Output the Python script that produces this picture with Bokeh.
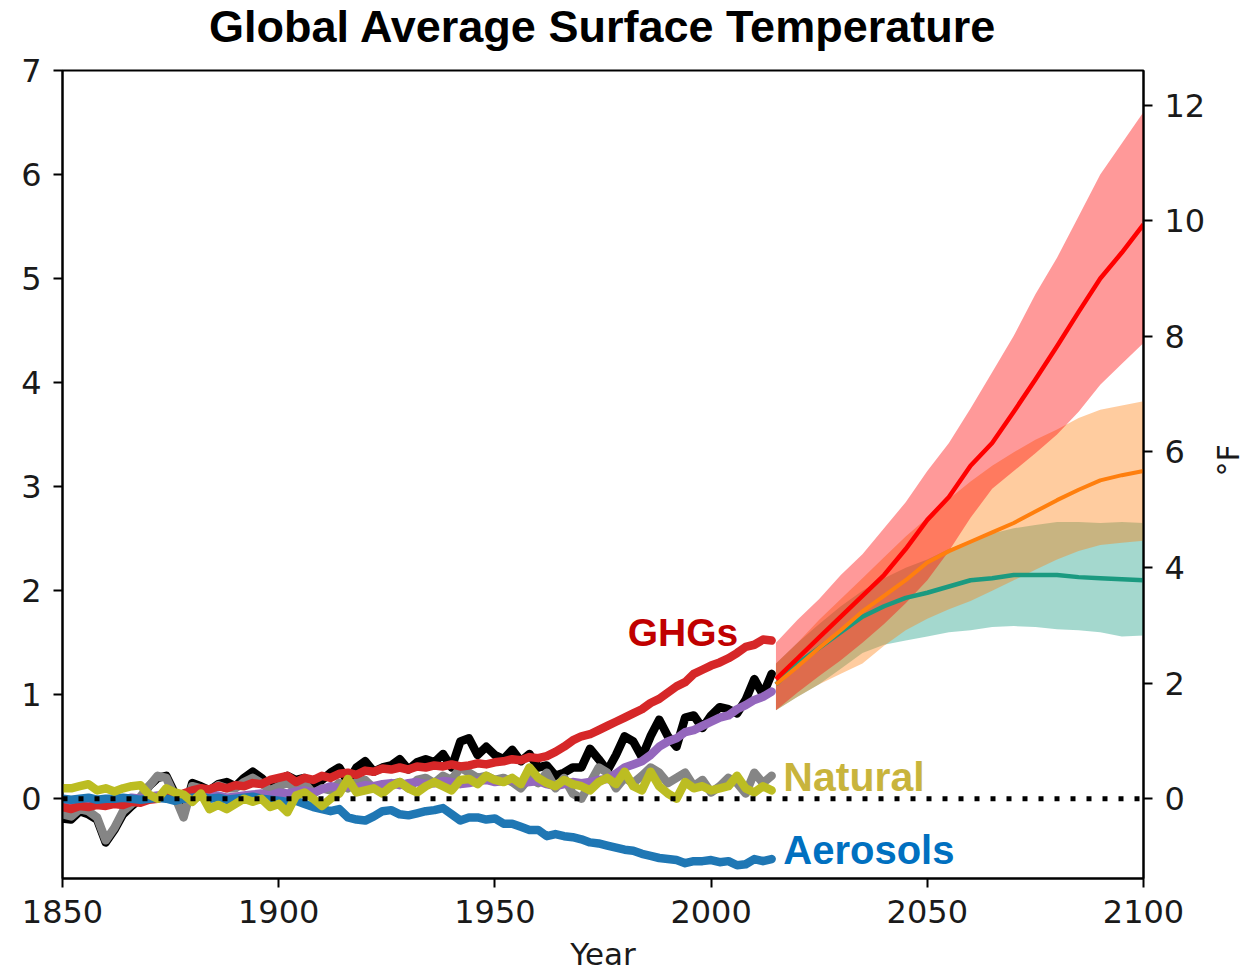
from bokeh.plotting import figure
from bokeh.layouts import row
from bokeh.models import Range1d, LinearAxis, FixedTicker, Span, Label, Title
from bokeh.embed import file_html
from bokeh.resources import INLINE

# ---------------- data ----------------
hist_years = list(range(1850, 2015, 2))

observed = [
    -0.19, -0.2, -0.12, -0.15, -0.2, -0.42, -0.3, -0.15, -0.07, 0.0,
    0.12, 0.2, 0.22, 0.05, -0.15, 0.15, 0.12, 0.08, 0.14, 0.16,
    0.12, 0.2, 0.26, 0.2, 0.12, 0.18, 0.22, 0.18, 0.2, 0.13,
    0.18, 0.25, 0.3, 0.16, 0.3, 0.36, 0.26, 0.3, 0.32, 0.38,
    0.28, 0.35, 0.38, 0.35, 0.43, 0.3, 0.55, 0.58, 0.42, 0.5,
    0.42, 0.38, 0.47, 0.36, 0.43, 0.3, 0.32, 0.22, 0.25, 0.3,
    0.3, 0.48, 0.38, 0.27, 0.42, 0.6, 0.55, 0.4, 0.6, 0.76,
    0.6, 0.5, 0.78, 0.8, 0.68, 0.8, 0.88, 0.86, 0.82, 0.95,
    1.15, 1.0, 1.2,
]

natural_only_model = [
    -0.15, -0.17, -0.1, -0.12, -0.18, -0.4, -0.28, -0.12, -0.05, 0.02,
    0.12, 0.22, 0.2, 0.02, -0.18, 0.12, 0.1, 0.06, 0.13, 0.1,
    0.1, 0.16, 0.2, 0.15, 0.08, 0.12, 0.15, 0.1, 0.15, 0.05,
    0.1, 0.08, 0.15, 0.1, 0.16, 0.18, 0.1, 0.12, 0.14, 0.16,
    0.1, 0.18, 0.2, 0.15, 0.22, 0.18, 0.3, 0.25, 0.2, 0.22,
    0.18, 0.2, 0.16, 0.1, 0.2, 0.15, 0.25, 0.1, 0.2, 0.05,
    0.0, 0.15, 0.3, 0.25, 0.1, 0.2, 0.15, 0.22, 0.3, 0.25,
    0.15, 0.2, 0.25, 0.12, 0.18, 0.06, 0.12, 0.2, 0.15, 0.05,
    0.25, 0.15, 0.22,
]

all_forcings = [
    -0.05, -0.04, -0.03, -0.04, -0.02, -0.03, 0.0, -0.01, 0.01, 0.0,
    0.02, 0.03, 0.02, 0.01, 0.0, 0.02, 0.03, 0.02, 0.03, 0.01,
    0.02, 0.03, 0.04, 0.05, 0.03, 0.06, 0.05, 0.07, 0.08, 0.06,
    0.09, 0.12, 0.1, 0.12, 0.11, 0.13, 0.12, 0.14, 0.15, 0.13,
    0.15, 0.16, 0.14, 0.15, 0.17, 0.16, 0.14, 0.15, 0.17, 0.18,
    0.16, 0.17, 0.18, 0.15, 0.16, 0.17, 0.14, 0.12, 0.14, 0.16,
    0.15, 0.16, 0.18, 0.19, 0.24, 0.3, 0.33, 0.36, 0.42, 0.5,
    0.55, 0.58, 0.64, 0.66, 0.7, 0.74, 0.78, 0.8, 0.86, 0.9,
    0.95, 0.98, 1.03,
]

ghgs = [
    -0.08, -0.1, -0.07, -0.08, -0.06, -0.07, -0.05, -0.06, -0.03, -0.04,
    -0.01, 0.0, 0.02, 0.01, 0.05, 0.08, 0.1, 0.09, 0.12, 0.1,
    0.13, 0.12, 0.15, 0.14, 0.18, 0.2, 0.22, 0.16, 0.2, 0.18,
    0.22, 0.2, 0.24, 0.25, 0.23, 0.27, 0.26, 0.29, 0.28, 0.3,
    0.28, 0.31, 0.3, 0.32, 0.31, 0.33, 0.31, 0.32, 0.34, 0.33,
    0.35, 0.36, 0.38, 0.37, 0.4, 0.39, 0.41, 0.45, 0.5, 0.56,
    0.6, 0.62, 0.66, 0.7, 0.74, 0.78, 0.82, 0.86, 0.92, 0.96,
    1.02, 1.08, 1.12, 1.2, 1.24, 1.28, 1.31, 1.35, 1.4, 1.46,
    1.48, 1.53, 1.52,
]

aerosols = [
    0.0, -0.01, 0.0, 0.01, -0.01, 0.0, 0.0, 0.01, 0.0, -0.01,
    0.0, 0.01, 0.0, -0.02, 0.0, 0.01, 0.02, 0.0, 0.01, -0.01,
    0.0, 0.01, 0.02, 0.0, -0.01, -0.02, -0.03, -0.02, -0.05, -0.08,
    -0.1, -0.12, -0.1, -0.18, -0.2, -0.21, -0.17, -0.12, -0.11, -0.15,
    -0.16, -0.14, -0.12, -0.11, -0.09, -0.15, -0.21, -0.18, -0.18, -0.2,
    -0.19, -0.24, -0.24, -0.27, -0.3, -0.3, -0.36, -0.34, -0.36, -0.37,
    -0.39, -0.42, -0.43, -0.45, -0.47, -0.49, -0.5, -0.53, -0.55, -0.57,
    -0.58, -0.59, -0.62, -0.6, -0.6, -0.59, -0.61, -0.6, -0.64, -0.63,
    -0.58, -0.6, -0.58,
]

natural = [
    0.1, 0.1, 0.12, 0.14, 0.08, 0.1, 0.07, 0.1, 0.12, 0.13,
    0.04, 0.0, 0.1, 0.06, 0.04, -0.03, 0.05, -0.1, -0.06, -0.1,
    -0.05, 0.0, -0.03, 0.0, -0.08, -0.05, -0.13, 0.03, 0.06, 0.0,
    -0.07, 0.0, 0.05, 0.19, 0.06, 0.08, 0.1, 0.05, 0.12, 0.16,
    0.1, 0.06, 0.12, 0.16, 0.12, 0.08, 0.18, 0.19, 0.14, 0.22,
    0.18, 0.16, 0.2, 0.14, 0.3, 0.2, 0.15, 0.12, 0.18, 0.14,
    0.12, 0.08, 0.16, 0.2, 0.14, 0.26, 0.12, 0.08, 0.26, 0.12,
    0.05, 0.0, 0.16, 0.1, 0.12, 0.08, 0.1, 0.12, 0.22, 0.1,
    0.06, 0.12, 0.08,
]

proj_years = list(range(2015, 2101, 5))

high_mean = [1.15, 1.35, 1.55, 1.75, 1.95, 2.15, 2.4, 2.68, 2.9,
             3.2, 3.42, 3.72, 4.03, 4.35, 4.68, 5.0, 5.25, 5.52]
high_upper = [1.5, 1.72, 1.92, 2.15, 2.35, 2.6, 2.85, 3.15, 3.42,
              3.75, 4.1, 4.45, 4.85, 5.2, 5.6, 6.0, 6.3, 6.6]
high_lower = [0.85, 1.02, 1.18, 1.33, 1.5, 1.68, 1.88, 2.1, 2.38,
              2.7, 2.98, 3.15, 3.32, 3.5, 3.72, 3.98, 4.18, 4.38]

mid_mean = [1.1, 1.27, 1.45, 1.62, 1.8, 1.95, 2.1, 2.27, 2.38,
            2.47, 2.56, 2.65, 2.76, 2.87, 2.97, 3.06, 3.11, 3.15]
mid_upper = [1.3, 1.5, 1.72, 1.92, 2.12, 2.32, 2.52, 2.7, 2.88,
             3.05, 3.2, 3.33, 3.45, 3.55, 3.66, 3.74, 3.78, 3.82]
mid_lower = [0.85, 0.98, 1.1, 1.2, 1.3, 1.47, 1.62, 1.73, 1.82,
             1.9, 2.0, 2.1, 2.2, 2.3, 2.38, 2.44, 2.46, 2.48]

low_mean = [1.1, 1.3, 1.45, 1.6, 1.75, 1.85, 1.93, 1.98, 2.04,
            2.1, 2.12, 2.15, 2.15, 2.15, 2.13, 2.12, 2.11, 2.1]
low_upper = [1.3, 1.5, 1.68, 1.85, 2.0, 2.12, 2.22, 2.3, 2.4,
             2.48, 2.55, 2.6, 2.63, 2.66, 2.66, 2.65, 2.66, 2.65]
low_lower = [0.85, 0.98, 1.1, 1.25, 1.4, 1.48, 1.52, 1.56, 1.6,
             1.62, 1.65, 1.66, 1.65, 1.63, 1.62, 1.6, 1.56, 1.57]

x_ticks = [1850, 1900, 1950, 2000, 2050, 2100]
c_ticks = [0, 1, 2, 3, 4, 5, 6, 7]
f_ticks = [0, 2, 4, 6, 8, 10, 12]

labels = ["GHGs", "Natural", "Aerosols"]
label_x = [1980.7, 2016.7, 2016.7]
label_y = [1.6, 0.21, -0.49]
label_colors = ["#c00000", "#c8b43c", "#0070c0"]
label_sizes = ["39px", "41px", "40px"]

# ---------------- main figure ----------------
Y0, Y1 = -0.767, 7.0
SHIFT = 16
p = figure(width=1208, height=974 + SHIFT, output_backend="svg", toolbar_location=None,
           x_range=Range1d(1850, 2100), y_range=Range1d(Y0, Y1),
           min_border_left=62, min_border_right=65, min_border_top=70 + SHIFT,
           min_border_bottom=94, margin=(-SHIFT, 0, 0, 0))
p.background_fill_color = "white"
p.border_fill_color = "white"
p.xgrid.visible = False
p.ygrid.visible = False
p.outline_line_color = "black"
p.outline_line_width = 2

p.title.text = "Global Average Surface Temperature"
p.title.align = "center"
p.title.vertical_align = "top"
p.title.text_font = "Liberation Sans"
p.title.text_font_style = "bold"
p.title.text_font_size = "45px"
p.title.text_color = "black"
p.title.standoff = 33

p.extra_y_ranges = {"F": Range1d(Y0 * 1.8, Y1 * 1.8)}
right = LinearAxis(y_range_name="F")
p.add_layout(right, "right")

for ax in [p.xaxis[0], p.yaxis[0], right]:
    ax.axis_line_width = 2
    ax.axis_line_color = "black"
    ax.major_tick_line_width = 2
    ax.major_tick_line_color = "black"
    ax.major_tick_out = 9
    ax.major_tick_in = 0
    ax.minor_tick_line_color = None
    ax.major_label_text_font = "DejaVu Sans"
    ax.major_label_text_font_size = "32px"
    ax.major_label_text_color = "#1a1a1a"
    ax.major_label_standoff = 12
    ax.axis_label_text_font = "DejaVu Sans"
    ax.axis_label_text_font_size = "31px"
    ax.axis_label_text_font_style = "normal"
    ax.axis_label_text_color = "#1a1a1a"

p.xaxis[0].ticker = FixedTicker(ticks=x_ticks)
p.xaxis[0].axis_label = "Year"
p.xaxis[0].axis_label_standoff = 10
p.yaxis[0].ticker = FixedTicker(ticks=c_ticks)
right.ticker = FixedTicker(ticks=f_ticks)
right.major_label_standoff = 12

# projection bands
p.varea(x=proj_years, y1=low_lower, y2=low_upper, fill_color="#1b9e85", fill_alpha=0.4)
p.varea(x=proj_years, y1=mid_lower, y2=mid_upper, fill_color="#ff7f0e", fill_alpha=0.4)
p.varea(x=proj_years, y1=high_lower, y2=high_upper, fill_color="#ff0000", fill_alpha=0.4)

# historical lines
W = 8.5
for series, color in [(observed, "black"), (natural_only_model, "#858585"),
                      (all_forcings, "#9467bd"), (ghgs, "#d62728"),
                      (aerosols, "#1f77b4"), (natural, "#bcbd22")]:
    p.line(hist_years, series, line_color=color, line_width=W,
           line_join="round", line_cap="round")

# projection means
p.line(proj_years, low_mean, line_color="#1b9a80", line_width=4.5, line_join="round")
p.line(proj_years, mid_mean, line_color="#ff7f0e", line_width=4, line_join="round")
p.line(proj_years, high_mean, line_color="#ff0000", line_width=4.5, line_join="round")

p.add_layout(Span(location=0, dimension="width", line_color="black",
                  line_width=5, line_dash="5 11"))

for t, x, y, c, s in zip(labels, label_x, label_y, label_colors, label_sizes):
    p.add_layout(Label(x=x, y=y, text=t, text_color=c, text_font="Liberation Sans",
                       text_font_style="bold", text_font_size=s,
                       text_baseline="middle", text_align="left"))

# ---------------- narrow strip carrying the °F axis title ----------------
q = figure(width=38, height=974, output_backend="svg", toolbar_location=None,
           x_range=Range1d(0, 1), y_range=Range1d(0, 1),
           x_axis_location=None, y_axis_location=None,
           min_border_left=37, min_border_right=0, min_border_top=4,
           min_border_bottom=94)
q.outline_line_color = None
q.background_fill_color = "white"
q.border_fill_color = "white"
q.xgrid.visible = False
q.ygrid.visible = False
q.title.text = ""
q.title.visible = False
q.add_layout(Title(text="°F", align="left", offset=402, text_font="DejaVu Sans",
                   text_font_size="30px", text_font_style="normal",
                   text_color="#1a1a1a", standoff=0), "left")

layout = row(p, q)
open("out.html", "w").write(file_html(layout, INLINE))
